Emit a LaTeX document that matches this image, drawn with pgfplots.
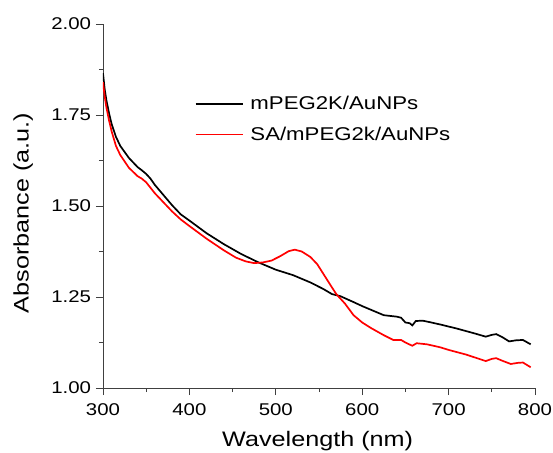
\documentclass[border=0pt]{standalone}
\usepackage{fontspec}
\setmainfont[FakeStretch=1.2]{Liberation Sans}
\usepackage{pgfplots}
\pgfplotsset{compat=1.18}
\begin{document}
\begin{tikzpicture}
\begin{axis}[
  scale only axis, width=432pt, height=364pt,
  xmin=300, xmax=800, ymin=1.0, ymax=2.0,
  axis lines*=left,
  xtick={300,400,...,800}, ytick={1.00,1.25,...,2.00},
  minor x tick num=1, minor y tick num=1,
  tick align=outside,
  major tick length=7pt, minor tick length=4pt,
  tick style={black!75, line width=0.8pt},
  axis line style={black!75, line width=0.8pt},
  /pgf/number format/assume math mode=true,
  yticklabel style={/pgf/number format/fixed, /pgf/number format/fixed zerofill, /pgf/number format/precision=2, xshift=-1.5pt},
  xticklabel style={yshift=-5pt},
  ticklabel style={font=\fontsize{17}{20}\selectfont},
  xlabel={Wavelength (nm)}, ylabel={Absorbance (a.u.)},
  label style={font=\fontsize{21}{24}\selectfont},
  xlabel style={at={(axis description cs:0.497,-0.162)}, anchor=base},
  ylabel style={at={(axis description cs:-0.185,0.481)}, anchor=center},
  legend style={draw=none, fill=none, at={(0.205,0.813)}, anchor=north west, font=\fontsize{18.5}{21}\selectfont, row sep=12pt},
  legend cell align=left,
  legend image code/.code={\draw[#1] (0pt,0pt) -- (47pt,0pt); \path (52pt,0pt);},
]
\addplot[black, line width=1.7pt] coordinates {
(300,1.865)(302,1.82)(304,1.79)(307,1.755)(310,1.725)(315,1.69)(320,1.665)(330,1.632)(340,1.607)(345,1.598)(350,1.588)(355,1.575)(360,1.558)(370,1.53)(380,1.502)(390,1.477)(400,1.46)(420,1.425)(440,1.395)(460,1.368)(480,1.345)(500,1.325)(520,1.31)(540,1.29)(555,1.272)(565,1.258)(575,1.252)(590,1.236)(600,1.225)(610,1.215)(625,1.20)(640,1.196)(645,1.193)(650,1.18)(655,1.178)(658,1.172)(662,1.184)(670,1.185)(680,1.18)(693,1.173)(710,1.163)(730,1.15)(743,1.141)(750,1.146)(755,1.148)(762,1.14)(770,1.128)(778,1.131)(786,1.132)(795,1.12)
};
\addlegendentry{mPEG2K/AuNPs}
\addplot[red, line width=1.7pt] coordinates {
(300,1.84)(302,1.80)(304,1.77)(307,1.735)(310,1.705)(315,1.665)(320,1.64)(330,1.605)(340,1.582)(345,1.575)(350,1.565)(355,1.55)(360,1.535)(370,1.51)(380,1.485)(390,1.463)(400,1.445)(420,1.41)(440,1.378)(454,1.358)(465,1.348)(475,1.343)(485,1.345)(495,1.35)(505,1.362)(515,1.376)(522,1.38)(530,1.375)(540,1.36)(548,1.34)(556,1.31)(564,1.28)(570,1.258)(580,1.232)(590,1.20)(600,1.18)(610,1.165)(625,1.145)(636,1.132)(645,1.132)(650,1.125)(658,1.116)(663,1.123)(675,1.12)(690,1.112)(701,1.104)(720,1.092)(743,1.074)(750,1.08)(755,1.082)(762,1.075)(772,1.066)(780,1.069)(786,1.07)(795,1.057)
};
\addlegendentry{SA/mPEG2k/AuNPs}
\end{axis}
\pgfresetboundingbox
\path (current axis.south west) ++(-103pt,-64pt) rectangle ++(553pt,452pt);
\end{tikzpicture}
\end{document}
